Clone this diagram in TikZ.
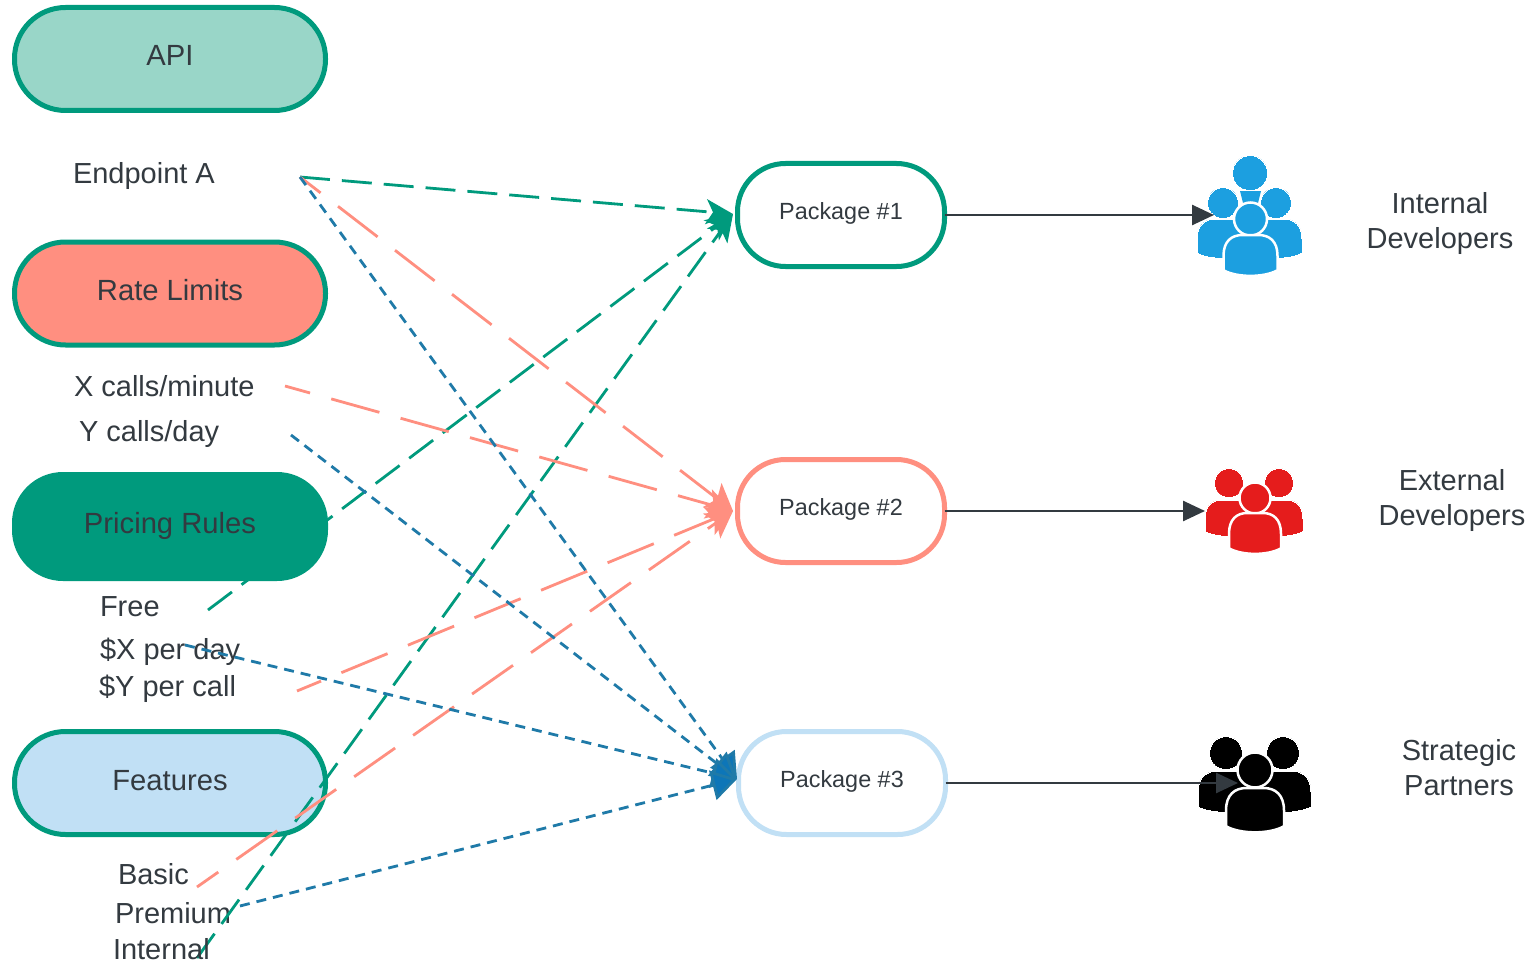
\documentclass[tikz,border=0pt]{standalone}
\usepackage{fontspec}
\setmainfont{Liberation Sans}
\usetikzlibrary{arrows.meta}
\definecolor{tealc}{HTML}{009A7D}
\definecolor{mintc}{HTML}{99D6C8}
\definecolor{pinkc}{HTML}{FF8F80}
\definecolor{bluel}{HTML}{1F7AA8}
\definecolor{bluehead}{HTML}{0D76B8}
\definecolor{skyc}{HTML}{C1E0F5}
\definecolor{txt}{HTML}{333A40}
\definecolor{iconb}{HTML}{1C9FE0}
\definecolor{iconr}{HTML}{E51C1C}
\newcommand{\bustshape}[6]{% colour, cx, top, halfwidth, height, outline
  \begin{scope}[shift={(#2,#3)},x=#4pt,y=-#5pt]
    \path[fill=#1,draw=white,line width=#6pt,line join=round]
      (-1,.85) -- (-1,.5) .. controls (-1,.15) and (-.7,0) .. (-.3,0) -- (.3,0)
      .. controls (.7,0) and (1,.15) .. (1,.5) -- (1,.85)
      .. controls (.5,1.03) and (-.5,1.03) .. (-1,.85) -- cycle;
  \end{scope}}
\newcommand{\headshape}[5]{\path[fill=#1,draw=white,line width=#5pt] (#2,#3) circle[radius=#4];}
\tikzset{
  x=1pt,y=-1pt,
  pill/.style={rectangle,rounded corners=51pt,line width=5pt,draw=tealc,minimum width=311pt,minimum height=103pt,outer sep=0pt,inner sep=0pt,text height=21pt,text depth=7pt,font=\fontsize{29.2}{35}\selectfont,text=txt},
  pack/.style={rectangle,rounded corners=48pt,line width=5pt,minimum width=207pt,minimum height=103pt,fill=white,outer sep=0pt,inner sep=0pt,text height=17pt,text depth=7.3pt,font=\fontsize{23.4}{28}\selectfont,text=txt},
  lab/.style={anchor=base west,inner sep=0pt,outer sep=0pt,font=\fontsize{29}{35}\selectfont,text=txt},
  side/.style={align=center,inner sep=0pt,font=\fontsize{29}{35}\selectfont,text=txt},
  greenline/.style={draw=tealc,line width=2.8pt,dash pattern=on 30pt off 12pt,-{Stealth[length=27pt,width=25pt,inset=7pt]}},
  pinkline/.style={draw=pinkc,line width=2.8pt,dash pattern=on 50pt off 22pt,dash phase=24pt,-{Stealth[length=26pt,width=30pt,inset=6pt]}},
  blueline/.style={draw=bluel,line width=2.8pt,dash pattern=on 10pt off 7pt,-{Stealth[length=25pt,width=30pt,inset=0pt,fill=bluehead]}},
  darkline/.style={draw=txt,line width=2.6pt,-{Stealth[length=22pt,width=20pt,inset=0pt]}},
}
\begin{document}
\begin{tikzpicture}
\useasboundingbox[fill=white] (0,0) rectangle (1532,963);
% coordinates
\coordinate (sA) at (300,177);
\coordinate (sX) at (285,386);
\coordinate (sY) at (291,435);
\coordinate (sFree) at (208,610);
\coordinate (sXd) at (185,645);
\coordinate (sYc) at (297,691);
\coordinate (sBasic) at (197,887);
\coordinate (sPrem) at (240,906);
\coordinate (sInt) at (197,958);
\coordinate (e1) at (733,214);
\coordinate (e2) at (733,511);
\coordinate (e3) at (737,779);
\coordinate (t1) at (1214,215);
\coordinate (t2) at (1205,511);
\coordinate (t3) at (1238,783);
% top pills and features
\node[pill,fill=mintc] (api) at (170,59) {API};
\node[pill,fill=pinkc] (rate) at (170,293.5) {Rate Limits};
\node[pill,fill=skyc] (feat) at (170,783) {Features};
% packages
\node[pack,draw=tealc] (p1) at (841,215) {Package \#1};
\node[pack,draw=pinkc] (p2) at (841,511) {Package \#2};
\node[pack,draw=skyc] (p3) at (842,783) {Package \#3};
% labels
\node[lab] (ta) at (73,183.5) {Endpoint A};
\node[lab] (tx) at (74,396) {X calls/minute};
\node[lab] (ty) at (79,441) {Y calls/day};
\node[lab] (tf) at (100,616) {Free};
\node[lab] (td) at (100,659) {\$X per day};
\node[lab] (tc) at (99,696) {\$Y per call};
\node[lab] (tb) at (118,884) {Basic};
\node[lab] (tp) at (115,923) {Premium};
\node[side] (s1) at (1440,224) {Internal\\Developers};
\node[side] (s2) at (1452,500) {External\\Developers};
\node[side] (s3) at (1459,767.5) {Strategic\\Partners};
% icons
\path[fill=iconb] (1240,191) -- (1261,191) -- (1258,203) -- (1243,203) -- cycle;
\headshape{iconb}{1250}{173}{17.5}{0}
\headshape{iconb}{1223}{203}{15.5}{0}
\headshape{iconb}{1276}{203}{15.5}{0}
\bustshape{iconb}{1223}{219}{26}{40}{0}
\bustshape{iconb}{1276}{219}{26}{40}{0}
\headshape{iconb}{1250.5}{219}{16.5}{2.5}
\bustshape{iconb}{1250.5}{235}{27}{41.5}{2.5}
\headshape{iconr}{1229}{483}{14.5}{0}
\headshape{iconr}{1279}{483}{14.5}{0}
\bustshape{iconr}{1229}{500}{24}{37}{0}
\bustshape{iconr}{1279}{500}{24}{37}{0}
\headshape{iconr}{1255}{498}{15.5}{2.5}
\bustshape{iconr}{1255}{513}{26}{41.5}{2.5}
\headshape{black}{1226}{753}{16.5}{0}
\headshape{black}{1283}{753}{16.5}{0}
\bustshape{black}{1226}{771}{28}{42}{0}
\bustshape{black}{1283}{771}{28}{42}{0}
\headshape{black}{1255}{770}{17.5}{2.5}
\bustshape{black}{1255}{788}{29}{45}{2.5}
% connectors
\draw[greenline] (sA) -- (e1);
\draw[greenline] (sFree) -- (e1);
\draw[greenline] (sInt) -- (e1);
\draw[pinkline] (sA) -- (e2);
\draw[pinkline] (sX) -- (e2);
\draw[pinkline] (sYc) -- (e2);
\draw[pinkline] (sBasic) -- (e2);
\draw[blueline] (sA) -- (e3);
\draw[blueline] (sY) -- (e3);
\draw[blueline] (sXd) -- (e3);
\draw[blueline] (sPrem) -- (e3);
\draw[darkline] (p1.east) -- (t1);
\draw[darkline] (p2.east) -- (t2);
\draw[darkline] (p3.east) -- (t3);
% drawn above the connectors that cross them
\node[lab] (ti) at (113,959.5) {Internal};
\node[pill,fill=tealc,minimum height=109pt,minimum width=316pt,draw=none] (price) at (170,526.5) {Pricing Rules};
\end{tikzpicture}
\end{document}
